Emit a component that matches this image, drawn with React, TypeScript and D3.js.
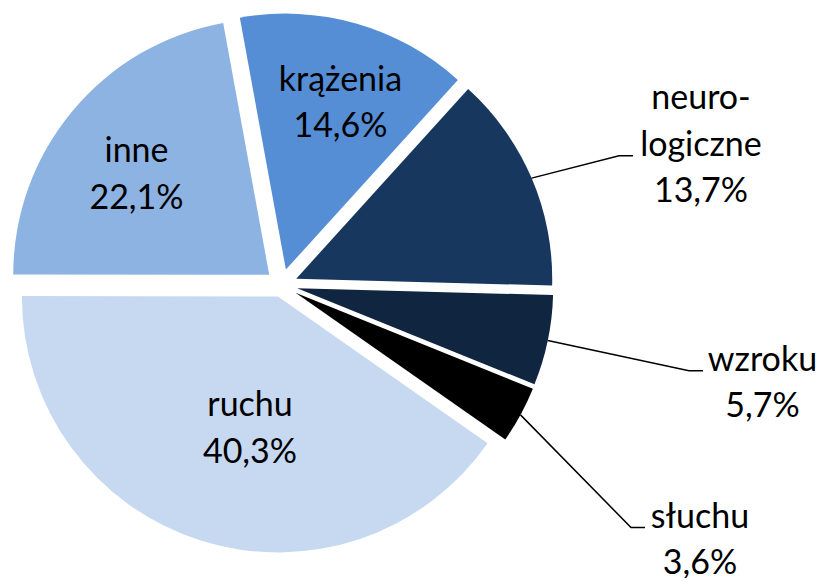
import React from "react";
import * as d3 from "d3";

// ---- data ----
const categories = ["ruchu", "inne", "krążenia", "neurologiczne", "wzroku", "słuchu"];
const labelLines = [["ruchu"], ["inne"], ["krążenia"], ["neuro-", "logiczne"], ["wzroku"], ["słuchu"]];
const shares = [40.3, 22.1, 14.6, 13.7, 5.7, 3.6];
const colors = ["#C6D9F1", "#8DB3E2", "#558ED5", "#17375E", "#10253F", "#000000"];

// ---- layout ----
const W = 819;
const H = 578;
const CX = 281.5;
const CY = 285;
const R = 256;
const START_DEG = 125;
const explode = [12, 16, 16, 16, 16, 16];
const FONT = "Lato, 'Open Sans', sans-serif";
const FONT_SIZE = 34;
const LINE_H = 46.5;
// label anchor: centre x, first baseline y; leader for outside labels
const labelLayout = [
  { x: 250, y: 416, outside: false, lineIdx: 0, endX: 0 },
  { x: 136.5, y: 162, outside: false, lineIdx: 0, endX: 0 },
  { x: 340.5, y: 90.7, outside: false, lineIdx: 0, endX: 0 },
  { x: 701, y: 109.3, outside: true, lineIdx: 1, endX: 633 },
  { x: 762.5, y: 370.7, outside: true, lineIdx: 0, endX: 703 },
  { x: 700, y: 527.5, outside: true, lineIdx: 0, endX: 645 },
];

export default function App() {
  const start = (START_DEG * Math.PI) / 180;
  const pie = d3
    .pie<number>()
    .sort(null)
    .value((d) => d)
    .startAngle(start)
    .endAngle(start + 2 * Math.PI);
  const arcs = pie(shares);
  const arcGen = d3.arc<d3.PieArcDatum<number>>().innerRadius(0).outerRadius(R);
  const fmt = (v: number) => d3.format(".1f")(v).replace(".", ",") + "%";

  return (
    <svg
      width={W}
      height={H}
      viewBox={`0 0 ${W} ${H}`}
      style={{ position: "fixed", left: 0, top: 0, background: "#fff" }}
    >
      <rect width={W} height={H} fill="#fff" />
      {arcs.map((a, i) => {
        const mid = (a.startAngle + a.endAngle) / 2;
        const ox = CX + explode[i] * Math.sin(mid);
        const oy = CY - explode[i] * Math.cos(mid);
        return (
          <path key={i} d={arcGen(a) || ""} transform={`translate(${ox},${oy})`} fill={colors[i]} />
        );
      })}
      {arcs.map((a, i) => {
        const L = labelLayout[i];
        if (!L.outside) return null;
        const mid = (a.startAngle + a.endAngle) / 2;
        const ox = CX + explode[i] * Math.sin(mid);
        const oy = CY - explode[i] * Math.cos(mid);
        const sx = ox + R * Math.sin(mid);
        const sy = oy - R * Math.cos(mid);
        const ly = L.y + L.lineIdx * LINE_H;
        const pts: [number, number][] = [
          [sx, sy],
          [L.endX - 14, ly],
          [L.endX, ly],
        ];
        return (
          <path
            key={"l" + i}
            d={d3.line()(pts) || ""}
            fill="none"
            stroke="#000"
            strokeWidth={1.5}
          />
        );
      })}
      {arcs.map((a, i) => {
        const L = labelLayout[i];
        const lines = [...labelLines[i], fmt(shares[i])];
        return (
          <text
            key={"t" + i}
            textAnchor="middle"
            fontFamily={FONT}
            fontSize={FONT_SIZE}
            fill="#000"
          >
            {lines.map((s, j) => (
              <tspan key={j} x={L.x} y={L.y + j * LINE_H}>
                {s}
              </tspan>
            ))}
          </text>
        );
      })}
    </svg>
  );
}
